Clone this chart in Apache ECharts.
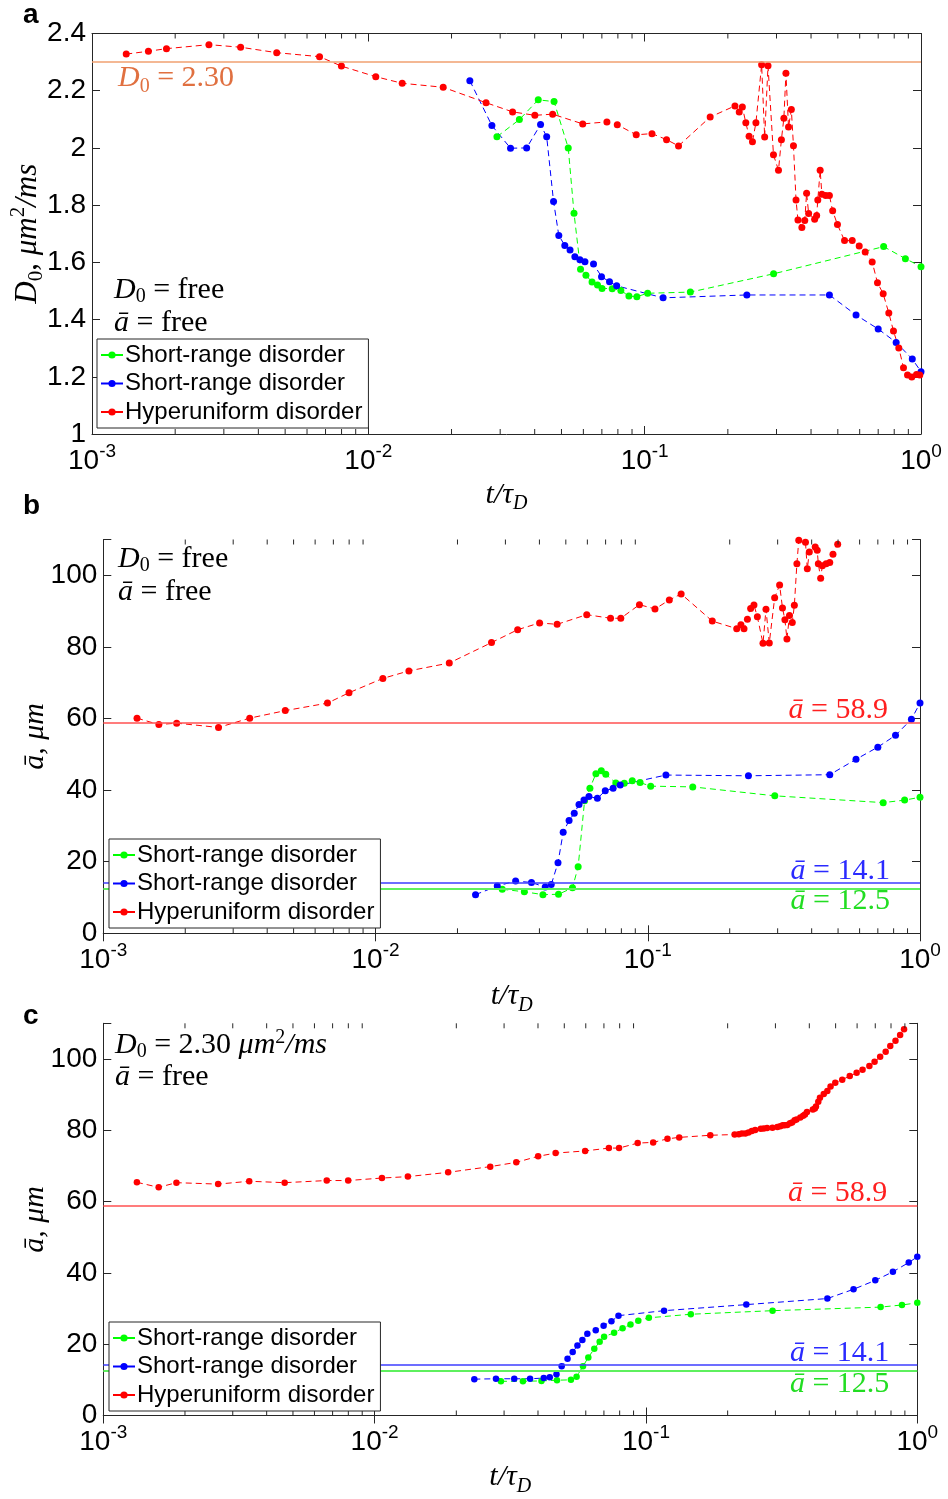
<!DOCTYPE html>
<html>
<head>
<meta charset="utf-8">
<script src="https://cdn.jsdelivr.net/npm/echarts@6/dist/echarts.min.js"></script>
<style>html,body{margin:0;padding:0;background:#fff}#chart{width:948px;height:1499px}</style>
</head>
<body>
<div id="chart"></div>
<script>
// time axis t/tau_D for each sample set
var tRed = [0.00133, 0.00160, 0.00186, 0.00265, 0.00345, 0.00466, 0.00666, 0.00799, 0.01064, 0.01326,
  0.01866, 0.02667, 0.03327, 0.04005, 0.04645, 0.05968, 0.0730, 0.0796, 0.0932, 0.1063,
  0.1200, 0.1326, 0.1726, 0.2122, 0.2199, 0.2257, 0.2323, 0.2387, 0.2455, 0.2527,
  0.2650, 0.2718, 0.2795, 0.2925, 0.3050, 0.3125, 0.3190, 0.3245, 0.3316, 0.3395,
  0.3455, 0.3530, 0.3587, 0.3706, 0.3796, 0.3855, 0.3921, 0.4122, 0.4192, 0.4232,
  0.4316, 0.4378, 0.4521, 0.4661, 0.4790, 0.4985, 0.5288, 0.5638, 0.5976, 0.6282,
  0.6658, 0.6959, 0.7297, 0.7647, 0.7951, 0.8311, 0.8643, 0.8937, 0.9262, 0.9632, 0.9900];
var tGreen = [0.0292, 0.0352, 0.0412, 0.0470, 0.0529, 0.0555, 0.0586, 0.0613, 0.0645, 0.0675,
  0.0701, 0.0763, 0.0820, 0.0877, 0.0937, 0.1025, 0.1463, 0.2928, 0.7325, 0.8780, 1.0];
var tBlue = [0.0233, 0.0280, 0.0327, 0.0374, 0.0420, 0.0442, 0.0468, 0.0489, 0.0514, 0.0537,
  0.0559, 0.0583, 0.0608, 0.0653, 0.0698, 0.0746, 0.0792, 0.1166, 0.2343, 0.4662,
  0.582, 0.700, 0.813, 0.930, 1.0];

// panel a: D0 (um^2/ms)
var dRedA = [2.328, 2.338, 2.347, 2.361, 2.352, 2.333, 2.319, 2.286, 2.249, 2.226,
  2.212, 2.158, 2.126, 2.114, 2.118, 2.084, 2.091, 2.081, 2.046, 2.050,
  2.029, 2.007, 2.108, 2.147, 2.126, 2.143, 2.088, 2.041, 2.022, 2.088,
  2.291, 2.038, 2.287, 1.976, 1.922, 2.029, 2.104, 2.261, 2.073, 2.134,
  2.008, 1.818, 1.748, 1.722, 1.746, 1.842, 1.771, 1.751, 1.764, 1.818,
  1.922, 1.838, 1.834, 1.834, 1.780, 1.732, 1.676, 1.676, 1.657, 1.636,
  1.601, 1.529, 1.490, 1.423, 1.360, 1.301, 1.232, 1.206, 1.199, 1.208, 1.206];
var dGreenA = [2.039, 2.099, 2.168, 2.162, 2.000, 1.772, 1.576, 1.555, 1.531, 1.521,
  1.509, 1.508, 1.502, 1.482, 1.480, 1.492, 1.496, 1.560, 1.655, 1.613, 1.585];
var dBlueA = [2.235, 2.078, 1.999, 2.000, 2.082, 2.039, 1.813, 1.694, 1.659, 1.643,
  1.620, 1.609, 1.602, 1.594, 1.550, 1.532, 1.518, 1.476, 1.486, 1.486,
  1.416, 1.367, 1.320, 1.262, 1.218];

// panel b: a-bar (um), D0 free
var aRedB = [60.1, 58.3, 58.7, 57.5, 60.1, 62.2, 64.3, 67.2, 71.2, 73.3,
  75.5, 81.2, 84.8, 86.7, 86.3, 89.0, 88.0, 88.0, 91.8, 90.6,
  93.1, 94.8, 87.2, 85.1, 86.2, 85.1, 87.7, 90.7, 91.7, 88.4,
  81.0, 90.5, 81.1, 93.7, 97.3, 90.9, 87.6, 82.2, 88.8, 86.8,
  91.6, 103.2, 109.8, 113, 109.2, 101.8, 106.5, 107.9, 107.0, 103.2,
  99.2, 102.7, 103.2, 103.6, 105.9, 108.7, 114, null, null, null,
  null, null, null, null, null, null, null, null, null, null, null];
var aGreenB = [12.3, 11.6, 10.8, 10.9, 12.7, 18.6, 37.0, 40.5, 44.6, 45.4,
  44.4, 42.0, 41.9, 42.6, 42.1, 41.1, 40.9, 38.4, 36.5, 37.2, 38.0];
var aBlueB = [10.8, 13.2, 14.6, 14.2, 12.9, 13.6, 19.7, 28.2, 31.5, 33.5,
  36.0, 37.2, 38.2, 37.7, 39.8, 40.5, 41.4, 44.2, 44.0, 44.3,
  48.6, 52.0, 55.3, 59.8, 64.3];

// panel c: a-bar (um), D0 fixed
var aRedC = [65.4, 64.0, 65.3, 64.9, 65.7, 65.3, 65.9, 65.9, 66.6, 67.0,
  68.2, 69.8, 71.0, 72.7, 73.6, 74.2, 75.0, 75.0, 76.4, 76.6,
  77.6, 78.0, 78.6, 78.8, 78.9, 79.1, 79.1, 79.4, 79.8, 80.1,
  80.4, 80.5, 80.6, 80.7, 80.9, 81.1, 81.4, 81.4, 81.5, 82.0,
  82.2, 82.8, 83.0, 83.6, 84.1, 84.4, 85.1, 85.8, 86.1, 86.7,
  88.0, 89.1, 90.2, 91.0, 92.3, 93.3, 94.2, 95.2, 96.1, 97.0,
  98.0, 99.2, 100.6, 102.0, 103.6, 105.1, 106.7, 108.3, null, null, null];
var aGreenC = [9.6, 9.6, 9.7, 9.9, 10.0, 10.9, 13.8, 16.3, 18.7, 20.7,
  22.1, 23.2, 24.5, 25.5, 26.6, 27.4, 28.4, 29.4, 30.4, 31.0, 31.6];
var aBlueC = [10.2, 10.3, 10.3, 10.3, 10.5, 10.7, 11.6, 13.8, 15.9, 17.8,
  19.6, 21.2, 22.9, 23.9, 25.2, 26.4, 28.0, 29.4, 31.1, 32.8,
  35.4, 37.9, 40.3, 42.9, 44.5];

// fitted reference values
var fitD0 = 2.30;
var fitARed = 58.9, fitABlue = 14.1, fitAGreen = 12.5;

var legendNames = ['Short-range disorder (g)', 'Short-range disorder (b)', 'Hyperuniform disorder'];

// minor log ticks 2..9 x 10^k
var minorTicks = [];
[0.001, 0.01, 0.1].forEach(function (d) {
  for (var m = 2; m <= 9; m++) minorTicks.push(+(m * d).toPrecision(3));
});

var sans = '"Liberation Sans", Arial, Helvetica, sans-serif';
var serif = '"Liberation Serif", "DejaVu Serif", serif';
var axisColor = '#262626';

// rich styles for math-like text; sub/sup sit at the bottom/top of a line box of height lh
function mathRich(size, color, lh) {
  var s = Math.round(size * 0.68);
  lh = lh || size + 8;
  return {
    i: { fontFamily: serif, fontStyle: 'italic', fontSize: size, lineHeight: lh, color: color, fill: color },
    n: { fontFamily: serif, fontSize: size, lineHeight: lh, color: color, fill: color },
    sub: { fontFamily: serif, fontSize: s, verticalAlign: 'bottom', color: color, fill: color },
    isub: { fontFamily: serif, fontStyle: 'italic', fontSize: s, verticalAlign: 'bottom', color: color, fill: color },
    sup: { fontFamily: serif, fontSize: s, verticalAlign: 'top', color: color, fill: color }
  };
}

var grids = [
  { left: 92, top: 33.5, width: 829, height: 400.5 },
  { left: 103.3, top: 539.5, width: 816.7, height: 393.8 },
  { left: 103.3, top: 1023.3, width: 814, height: 392.2 }
];
var yRanges = [
  { min: 1, max: 2.4, interval: 0.2 },
  { min: 0, max: 110, interval: 20 },
  { min: 0, max: 110, interval: 20 }
];

var xAxes = [], yAxes = [];
var xNameGap = [42, 44, 43];
grids.forEach(function (g, gi) {
  var base = { gridIndex: gi, type: 'log', logBase: 10, min: 0.001, max: 1, splitLine: { show: false } };
  xAxes.push(Object.assign({}, base, {
    position: 'bottom',
    axisLine: { show: true, lineStyle: { color: axisColor, width: 1 } },
    axisTick: { inside: true, length: 8, lineStyle: { color: axisColor } },
    axisLabel: {
      margin: 8, alignMinLabel: 'center', alignMaxLabel: 'center',
      formatter: function (v) { return '{b|10}{s|' + Math.round(Math.log10(v)) + '}'; },
      rich: {
        b: { fontFamily: sans, fontSize: 28, lineHeight: 38, color: '#000' },
        s: { fontFamily: sans, fontSize: 19, verticalAlign: 'top', color: '#000' }
      }
    },
    name: '{i|t/τ}{isub|D}', nameLocation: 'middle', nameGap: xNameGap[gi], nameMoveOverlap: false,
    nameTextStyle: { rich: mathRich(30, '#000') }
  }));
  xAxes.push(Object.assign({}, base, {
    position: 'top',
    axisLine: { show: true, lineStyle: { color: axisColor, width: 1 } },
    axisTick: { inside: true, length: 8, lineStyle: { color: axisColor } },
    axisLabel: { show: false }
  }));

  var yr = yRanges[gi];
  yAxes.push(Object.assign({ gridIndex: gi, type: 'value', position: 'left', splitLine: { show: false },
    axisLine: { show: true, lineStyle: { color: axisColor, width: 1 } },
    axisTick: { inside: true, length: 8, lineStyle: { color: axisColor } },
    axisLabel: {
      margin: 6, fontFamily: sans, fontSize: 28, lineHeight: 14, color: '#000',
      formatter: function (v) { return v > 100.5 ? '' : String(+v.toFixed(1)); }
    },
    name: gi === 0 ? '{i|D}{sub|0}{n|, }{i|μm}{sup|2}{i|/ms}' : '{i|ā, μm}',
    nameLocation: 'middle', nameRotate: 90, nameGap: gi === 0 ? 45 : 49, nameMoveOverlap: false,
    nameTextStyle: { rich: mathRich(gi === 0 ? 31 : 30, '#000') }
  }, yr));
  yAxes.push(Object.assign({ gridIndex: gi, type: 'value', position: 'right', splitLine: { show: false },
    axisLine: { show: true, lineStyle: { color: axisColor, width: 1 } },
    axisTick: { inside: true, length: 8, lineStyle: { color: axisColor } },
    axisLabel: { show: false }
  }, yr));
});

function refLine(value, color, width, text, textColor, pos, dist, lh) {
  return {
    silent: true, symbol: ['none', 'none'], animation: false,
    lineStyle: { type: 'solid', color: color, width: width },
    label: {
      show: true, position: pos, distance: dist, formatter: text,
      rich: mathRich(30, textColor, lh || 24)
    },
    data: [{ yAxis: value }]
  };
}

function curve(name, color, t, v, gi, size, markLine) {
  var s = {
    type: 'line', name: name, xAxisIndex: gi * 2, yAxisIndex: gi * 2,
    data: t.map(function (x, i) { return [x, v[i]]; }),
    symbol: 'circle', symbolSize: size, clip: true,
    lineStyle: { color: color, width: 1, type: [6, 4] },
    itemStyle: { color: color }
  };
  if (markLine) s.markLine = markLine;
  return s;
}

// minor ticks of the log axis, drawn on bottom and top edges through the axis scale
function minorTickSeries(gi) {
  var yr = yRanges[gi];
  return {
    type: 'custom', xAxisIndex: gi * 2, yAxisIndex: gi * 2, silent: true, clip: false, z: 6,
    data: minorTicks.map(function (t) { return [t, yr.min]; }),
    renderItem: function (params, api) {
      var t = api.value(0);
      var b = api.coord([t, yr.min]);
      var tp = api.coord([t, yr.max]);
      var st = { stroke: axisColor, lineWidth: 1 };
      return { type: 'group', children: [
        { type: 'line', shape: { x1: b[0], y1: b[1], x2: b[0], y2: b[1] - 5 }, style: st },
        { type: 'line', shape: { x1: tp[0], y1: tp[1], x2: tp[0], y2: tp[1] + 5 }, style: st }
      ] };
    }
  };
}

var green = '#00ff00', blue = '#0000ff', red = '#ff0000';
var series = [
  curve(legendNames[0], green, tGreen, dGreenA, 0, 7),
  curve(legendNames[1], blue, tBlue, dBlueA, 0, 7),
  curve(legendNames[2], red, tRed, dRedA, 0, 7,
    refLine(fitD0, '#f0a070', 1.5, '{i|D}{sub|0}{n| = 2.30}', '#e07040', 'insideStartBottom', [26, -3], 38)),

  curve(legendNames[0], green, tGreen, aGreenB, 1, 7,
    refLine(fitAGreen, '#5ef05e', 2, '{i|ā}{n| = 12.5}', '#22dd22', 'insideEndBottom', [30, 1])),
  curve(legendNames[1], blue, tBlue, aBlueB, 1, 7,
    refLine(fitABlue, '#3c3cff', 1.5, '{i|ā}{n| = 14.1}', '#2a2aff', 'insideEndTop', [30, 0])),
  curve(legendNames[2], red, tRed, aRedB, 1, 7,
    refLine(fitARed, '#ff5050', 1.5, '{i|ā}{n| = 58.9}', '#ff2020', 'insideEndTop', [32, 0])),

  curve(legendNames[0], green, tGreen, aGreenC, 2, 6.5,
    refLine(fitAGreen, '#5ef05e', 2, '{i|ā}{n| = 12.5}', '#22dd22', 'insideEndBottom', [28, 1])),
  curve(legendNames[1], blue, tBlue, aBlueC, 2, 6.5,
    refLine(fitABlue, '#3c3cff', 1.5, '{i|ā}{n| = 14.1}', '#2a2aff', 'insideEndTop', [28, 0])),
  curve(legendNames[2], red, tRed, aRedC, 2, 6.5,
    refLine(fitARed, '#ff5050', 1.5, '{i|ā}{n| = 58.9}', '#ff2020', 'insideEndTop', [30, 0])),

  minorTickSeries(0), minorTickSeries(1), minorTickSeries(2)
];

function legendAt(left, top) {
  return {
    orient: 'vertical', left: left, top: top, data: legendNames, selectedMode: false, z: 20,
    backgroundColor: '#fff', borderColor: axisColor, borderWidth: 1, borderRadius: 0,
    padding: [4, 6, 4, 3], itemGap: 4.5, itemWidth: 22, itemHeight: 9,
    lineStyle: { type: 'solid' },
    formatter: function (n) { return n.replace(/ \([gb]\)$/, ''); },
    textStyle: { fontFamily: sans, fontSize: 24, lineHeight: 24, color: '#000', padding: [0, 0, 0, -3] }
  };
}

function note(left, top, text) {
  return {
    type: 'text', left: left, top: top,
    style: { text: text, fill: '#000', rich: mathRich(30, '#000', 34) }
  };
}

function panelLabel(left, top, text) {
  return { type: 'text', left: left, top: top,
    style: { text: text, fill: '#000', font: 'bold 28px ' + sans } };
}

var chart = echarts.init(document.getElementById('chart'), null, { renderer: 'canvas' });
chart.setOption({
  animation: false,
  backgroundColor: '#fff',
  grid: grids,
  xAxis: xAxes,
  yAxis: yAxes,
  legend: [legendAt(97, 339), legendAt(109, 839), legendAt(109, 1322)],
  series: series,
  graphic: [
    panelLabel(23, 1, 'a'), panelLabel(23, 492, 'b'), panelLabel(23, 1002, 'c'),
    note(114, 275, '{i|D}{sub|0}{n| = free}'),
    note(114, 308, '{i|ā}{n| = free}'),
    note(118, 544, '{i|D}{sub|0}{n| = free}'),
    note(118, 577, '{i|ā}{n| = free}'),
    note(115, 1028, '{i|D}{sub|0}{n| = 2.30 }{i|μm}{sup|2}{i|/ms}'),
    note(115, 1062, '{i|ā}{n| = free}')
  ]
});
</script>
</body>
</html>
